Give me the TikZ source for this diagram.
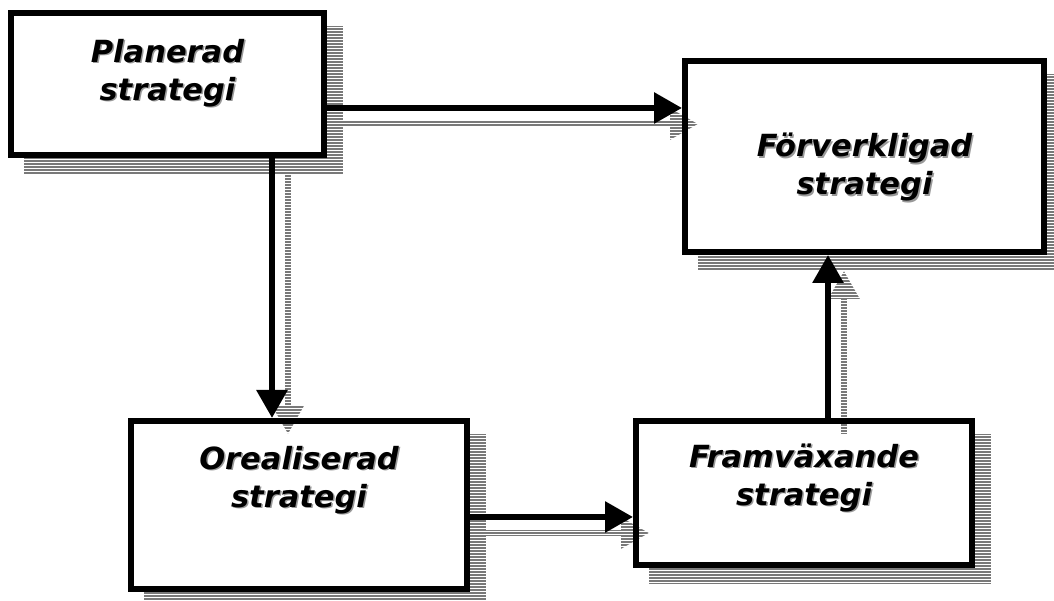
\documentclass[tikz,border=0pt]{standalone}
\usepackage{fontspec}
\setmainfont{DejaVu Sans}
\usetikzlibrary{positioning,arrows.meta}
\pgfdeclarelayer{shadow}
\pgfdeclarelayer{stripes}
\pgfsetlayers{shadow,stripes,main}
\newcommand{\shadowed}[1]{\leavevmode\rlap{\kern1.5pt\raisebox{-1.5pt}{\textcolor{gray!80}{#1}}}#1}

\begin{document}
\begin{tikzpicture}[x=1pt, y=1pt,
    block/.style={rectangle, draw, line width=6pt, inner sep=0pt},
    title/.style={font=\fontsize{30.5}{38}\selectfont\bfseries\itshape, align=center},
    flow/.style={line width=6pt, -{Triangle[length=28pt, width=30pt]}},
    ghost/.style={flow, gray!95!black, transform canvas={shift={(16pt,-16pt)}}}]
    \useasboundingbox (0,0) rectangle (1054,601);

    \node[block, minimum width=313pt, minimum height=142pt,
        label={[title, yshift=10.5pt]center:{\shadowed{Planerad}\\\shadowed{strategi}}}]
        (planned) at (167.5,517) {};
    \node[block, minimum width=359pt, minimum height=191pt,
        label={[title, yshift=-11.5pt]center:{\shadowed{Förverkligad}\\\shadowed{strategi}}}]
        (realized) at (864.5,444.5) {};
    \node[block, minimum width=336pt, minimum height=168pt,
        label={[title, yshift=24.5pt]center:{\shadowed{Orealiserad}\\\shadowed{strategi}}}]
        (unrealized) at (299,96) {};
    \node[block, minimum width=336pt, minimum height=144pt,
        label={[title, yshift=14.5pt]center:{\shadowed{Framväxande}\\\shadowed{strategi}}}]
        (emergent) at (804,108) {};

    \coordinate (p1) at ([yshift=-24]planned.east);
    \coordinate (p2) at ([xshift=104.5]planned.south);
    \coordinate (p3) at ([yshift=-12]unrealized.east);
    \coordinate (p4) at ([xshift=24]emergent.north);

    \draw[flow] (p1) -- (p1 -| realized.west);
    \draw[flow] (p2) -- (p2 |- unrealized.north);
    \draw[flow] (p3) -- (p3 -| emergent.west);
    \draw[flow] (p4) -- (p4 |- realized.south);

    % drop shadows, striped
    \begin{pgfonlayer}{shadow}
      \foreach \b in {planned,realized,unrealized,emergent}
        \fill[gray!95!black] ([shift={(16,-16)}]\b.south west) rectangle ([shift={(16,-16)}]\b.north east);
      \foreach \b in {planned,realized,unrealized,emergent}
        \fill[white] (\b.south west) rectangle (\b.north east);
      \draw[ghost] (p1) -- (p1 -| realized.west);
      \draw[ghost] (p2) -- (p2 |- unrealized.north);
      \draw[ghost] (p3) -- (p3 -| emergent.west);
      \draw[ghost] (p4) -- (p4 |- realized.south);
    \end{pgfonlayer}
    \begin{pgfonlayer}{stripes}
      \foreach \y in {0,3,...,600}
        \draw[white, line width=0.9pt] (0,\y.5) -- (1054,\y.5);
    \end{pgfonlayer}
\end{tikzpicture}
\end{document}
